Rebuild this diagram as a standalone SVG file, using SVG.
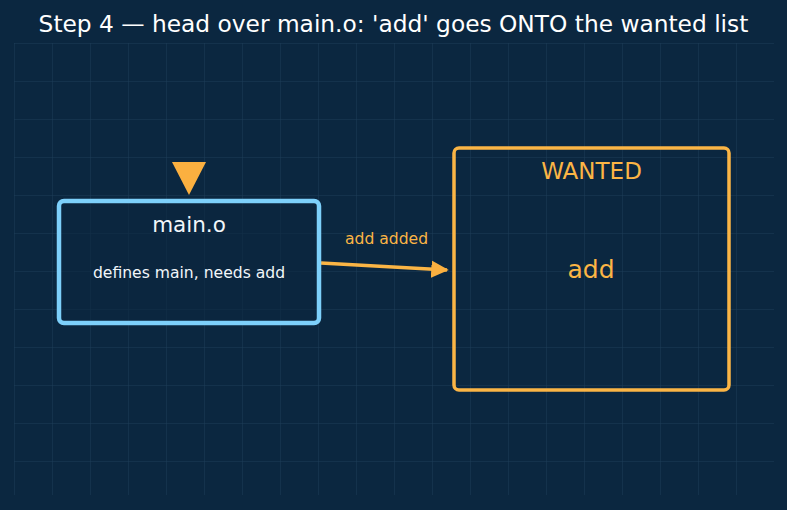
<svg xmlns="http://www.w3.org/2000/svg" width="787" height="510" viewBox="0 0 787 510">
<defs>
<pattern id="grid" x="14" y="43" width="38" height="38" patternUnits="userSpaceOnUse">
<path d="M0 0 H38 M0 0 V38" fill="none" stroke="#1d3d57" stroke-width="1"/>
</pattern>
<marker id="arr" viewBox="0 0 10 10" refX="9" refY="5" markerWidth="5" markerHeight="5" orient="auto" markerUnits="strokeWidth">
<path d="M0 0 L10 5 L0 10 Z" fill="#fbb040"/>
</marker>
<style>
text{font-family:"DejaVu Sans","Liberation Sans",sans-serif;text-anchor:middle}
.title{font-size:23.3px;fill:#ffffff}
.node{fill:#0b2740}
.lbl{fill:#f2f6fa}
.or{fill:#fbb545}
</style>
</defs>
<rect width="787" height="510" fill="#0b2740"/>
<rect x="14" y="43" width="760" height="452" fill="url(#grid)"/>
<text class="title" x="393.5" y="32">Step 4 — head over main.o: 'add' goes ONTO the wanted list</text>
<g id="connectors">
<line x1="321" y1="263" x2="447" y2="270" stroke="#fbb545" stroke-width="3.5" marker-end="url(#arr)"/>
<text class="or" x="386.5" y="244" font-size="15.6">add added</text>
</g>
<g id="head">
<polygon points="172,162 206,162 189,195" fill="#fbb040"/>
</g>
<g id="main-o">
<rect class="node" x="59" y="201" width="260" height="122" rx="5" fill-opacity="0.6" stroke="#7dd0fb" stroke-width="4.5"/>
<text class="lbl" x="189" y="232" font-size="21.5">main.o</text>
<text class="lbl" x="189" y="277.5" font-size="15.6">defines main, needs add</text>
</g>
<g id="wanted">
<rect class="node" x="454" y="148" width="275" height="242" rx="5" fill-opacity="0" stroke="#fbb545" stroke-width="3.5"/>
<text class="or" x="591.5" y="179" font-size="23">WANTED</text>
<text class="or" x="591" y="278" font-size="25">add</text>
</g>
</svg>
